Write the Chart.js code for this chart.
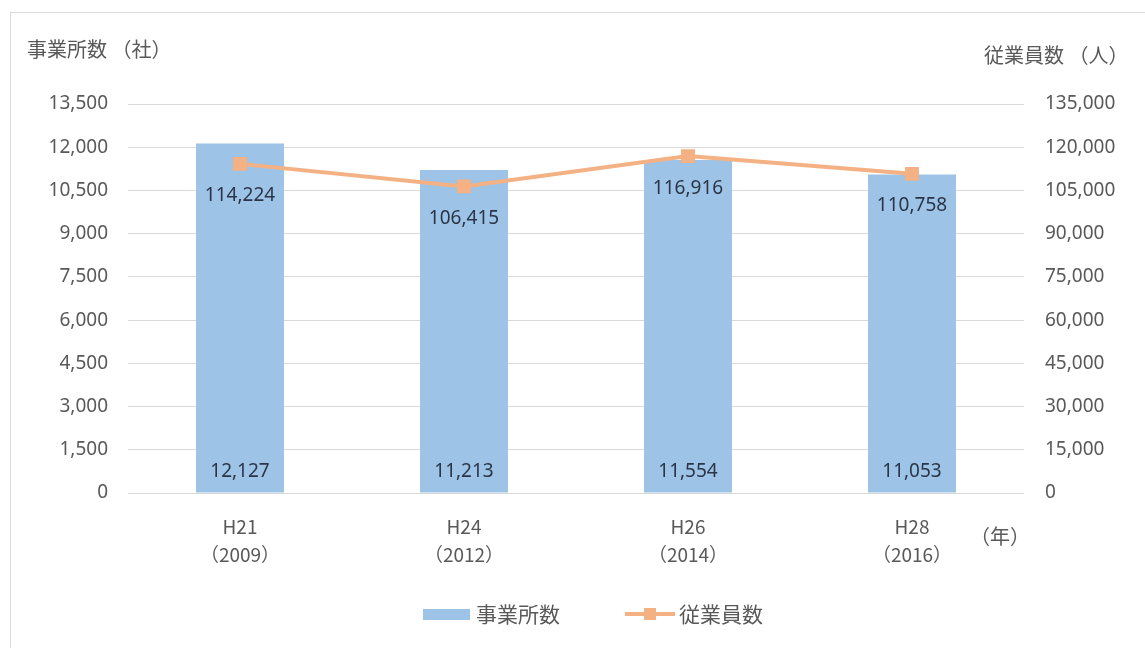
<!DOCTYPE html>
<html>
<head>
<meta charset="utf-8">
<script src="https://cdn.jsdelivr.net/npm/chart.js@4"></script>
<style>
  html, body { margin: 0; padding: 0; background: #fff; }
  #wrap { position: relative; width: 1145px; height: 648px; }
  #frame { position: absolute; left: 10px; top: 12px; right: -2px; bottom: -2px; border: 1px solid #d9d9d9; border-right: none; border-bottom: none; }
</style>
</head>
<body>
<div id="wrap">
  <div id="frame"></div>
  <canvas id="chart" width="1145" height="648"></canvas>
</div>
<script>
const categories = [['H21', '（2009）'], ['H24', '（2012）'], ['H26', '（2014）'], ['H28', '（2016）']];
const offices = [12127, 11213, 11554, 11053];
const employees = [114224, 106415, 116916, 110758];
const leftTicks = [0, 1500, 3000, 4500, 6000, 7500, 9000, 10500, 12000, 13500];
const rightTicks = [0, 15000, 30000, 45000, 60000, 75000, 90000, 105000, 120000, 135000];

const FONT = '"Noto Sans", "Noto Sans CJK JP", sans-serif';
const CJK = '"Noto Sans CJK JP", "Noto Sans", sans-serif';
const GRAY = '#595959';
const LABEL = '#2b3548';
const BAR = '#9DC3E6';
const LINE = '#F4B183';

const fmt = v => v.toLocaleString('en-US');

const extras = {
  id: 'extras',
  afterDatasetsDraw(chart) {
    const ctx = chart.ctx;
    const y = chart.scales.y;
    ctx.save();
    ctx.fillStyle = LABEL;
    ctx.font = '19px ' + FONT;
    ctx.textAlign = 'center';
    ctx.textBaseline = 'middle';
    // dataset 1 = bars, dataset 0 = line
    chart.getDatasetMeta(1).data.forEach((bar, i) => {
      ctx.fillText(fmt(offices[i]), bar.x, y.getPixelForValue(0) - 21);
    });
    chart.getDatasetMeta(0).data.forEach((pt, i) => {
      ctx.fillText(fmt(employees[i]), pt.x, pt.y + 32);
    });

    // axis titles
    ctx.fillStyle = GRAY;
    ctx.font = '20px ' + CJK;
    ctx.textAlign = 'left';
    ctx.fillText('事業所数 （社）', 27, 49);
    ctx.fillText('従業員数 （人）', 984, 55);
    ctx.fillText('（年）', 970, 536);

    // legend
    const ly = 614;
    ctx.fillStyle = BAR;
    ctx.fillRect(423, ly - 5, 47, 11);
    ctx.fillStyle = GRAY;
    ctx.font = '21px ' + CJK;
    ctx.fillText('事業所数', 476, ly);
    ctx.strokeStyle = LINE;
    ctx.lineWidth = 4;
    ctx.beginPath();
    ctx.moveTo(625, ly);
    ctx.lineTo(675, ly);
    ctx.stroke();
    ctx.fillStyle = LINE;
    ctx.fillRect(644, ly - 6, 12, 12);
    ctx.fillStyle = GRAY;
    ctx.fillText('従業員数', 679, ly);
    ctx.restore();
  }
};

new Chart(document.getElementById('chart'), {
  data: {
    labels: categories,
    datasets: [
      {
        type: 'line',
        label: '従業員数',
        data: employees,
        yAxisID: 'y1',
        borderColor: LINE,
        backgroundColor: LINE,
        borderWidth: 4,
        pointStyle: 'rect',
        pointRadius: 7,
        pointHoverRadius: 7,
        tension: 0,
        order: 0
      },
      {
        type: 'bar',
        label: '事業所数',
        data: offices,
        yAxisID: 'y',
        backgroundColor: BAR,
        barPercentage: 0.393,
        categoryPercentage: 1,
        order: 1
      }
    ]
  },
  options: {
    responsive: false,
    animation: false,
    layout: { padding: { top: 104, left: 0, right: 0, bottom: 0 } },
    plugins: { legend: { display: false }, tooltip: { enabled: false } },
    scales: {
      x: {
        grid: { display: false },
        border: { display: false },
        ticks: { color: GRAY, font: { size: 19, family: CJK, lineHeight: 1.45 }, padding: 12 },
        afterFit: s => { s.height = 155; }
      },
      y: {
        position: 'left',
        min: 0,
        max: 13500,
        afterBuildTicks: s => { s.ticks = leftTicks.map(v => ({ value: v })); },
        ticks: { color: GRAY, font: { size: 19, family: FONT }, padding: 20, callback: v => fmt(v) },
        grid: { color: '#d9d9d9', drawTicks: false },
        border: { display: false },
        afterFit: s => { s.width = 128; }
      },
      y1: {
        position: 'right',
        min: 0,
        max: 135000,
        afterBuildTicks: s => { s.ticks = rightTicks.map(v => ({ value: v })); },
        ticks: { color: GRAY, font: { size: 19, family: FONT }, padding: 21, callback: v => fmt(v) },
        grid: { display: false, drawTicks: false },
        border: { display: false },
        afterFit: s => { s.width = 121; }
      }
    }
  },
  plugins: [extras]
});
</script>
</body>
</html>
